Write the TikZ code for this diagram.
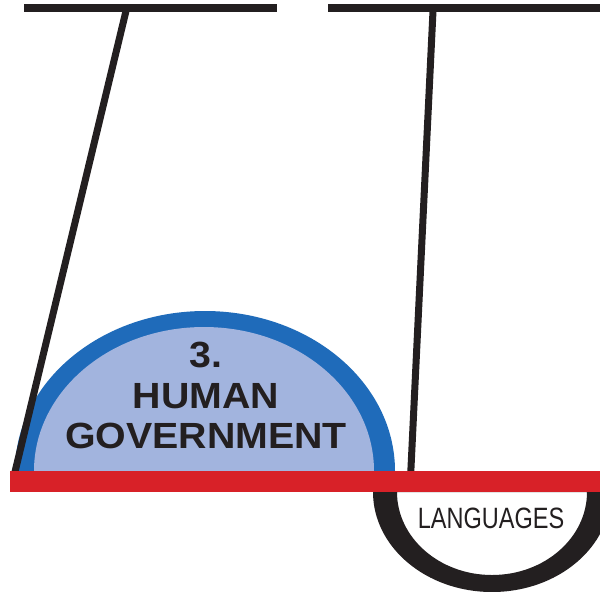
\documentclass[tikz,border=0pt]{standalone}
\usepackage{fontspec}
\setmainfont{Liberation Sans}
\usetikzlibrary{calc,positioning}
\definecolor{inkblack}{HTML}{231F20}
\definecolor{domeblue}{HTML}{1F6BBA}
\definecolor{domefill}{HTML}{A2B4DE}
\definecolor{floorred}{HTML}{D82128}

\begin{document}
\begin{tikzpicture}[x=0.5pt, y=-0.5pt,
	bar/.style = {draw=inkblack, line width=4pt},
	leg/.style = {draw=inkblack, line width=3.5pt},
	title/.style = {inner sep=0pt, anchor=base, text=inkblack, font=\fontsize{18.2}{20}\selectfont\bfseries},
	small/.style = {inner sep=0pt, anchor=base, text=inkblack, font=\fontsize{14.7}{16}\selectfont}]
\useasboundingbox (0,0) rectangle (600,591);
\clip (0,0) rectangle (600,591);
\coordinate (bar 1 west) at (24,7.5);
\coordinate (bar 1 east) at (277,7.5);
\coordinate (bar 2 west) at (328,7.5);
\coordinate (bar 2 east) at (600,7.5);
\coordinate (leg 1 top)  at (126,11);
\coordinate (leg 1 foot) at (13.5,478);
\coordinate (leg 2 top)  at (433,11);
\coordinate (leg 2 foot) at (410.5,478);

% top bars and legs
\draw[bar] (bar 1 west) -- (bar 1 east);
\draw[bar] (bar 2 west) -- (bar 2 east);

% dome
\fill[domeblue] (15,471) arc[start angle=180, end angle=360, x radius=190, y radius=160] -- cycle;
\fill[domefill] (34,471) arc[start angle=180, end angle=360, x radius=170, y radius=144] -- cycle;
\node[title] (num)   at (206,367)            {\scalebox{1.08}[1]{3.}};
\node[title] (human) at ($(num.base)+(0,41)$)   {\scalebox{1.08}[1]{HUMAN}};
\node[title] (gov)   at ($(human.base)+(0,40)$) {\scalebox{1.08}[1]{GOVERNMENT}};

\draw[leg] (leg 1 top) -- (leg 1 foot);
\draw[leg] (leg 2 top) -- (leg 2 foot);

% ring under the floor
\fill[inkblack, even odd rule] (373,492) arc[start angle=180, end angle=0, x radius=119, y radius=100] -- cycle
	(397,492) arc[start angle=180, end angle=0, x radius=95, y radius=83] -- cycle;
\node[small] (lang) at (491,528) {\scalebox{0.8}[1]{LANGUAGES}};

% floor
\fill[floorred] (10,471) rectangle (600,492);
\end{tikzpicture}
\end{document}
